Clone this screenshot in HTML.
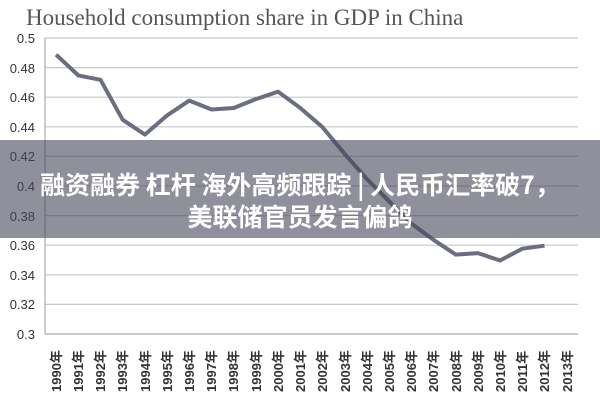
<!DOCTYPE html>
<html><head><meta charset="utf-8"><style>
body{margin:0;width:600px;height:400px;overflow:hidden;background:#fff;position:relative;font-family:"Liberation Sans","Noto Sans CJK SC",sans-serif}
#band{position:absolute;left:0;top:140px;width:600px;height:98px;background:rgba(70,70,90,0.6)}
.t{position:absolute;left:0;width:600px;text-align:center;color:#fff;font-weight:bold;font-size:25px;line-height:30px;font-family:"Noto Sans CJK SC",sans-serif}
</style></head><body>
<svg width="600" height="400" style="position:absolute;left:0;top:0">
<text x="26" y="25" font-family="Liberation Serif" font-size="23" fill="#555">Household consumption share in GDP in China</text>
<g stroke="#c8c8c8" stroke-width="1.2">
<line x1="45" x2="578" y1="38" y2="38"/><line x1="45" x2="578" y1="67.6" y2="67.6"/><line x1="45" x2="578" y1="97.2" y2="97.2"/><line x1="45" x2="578" y1="126.8" y2="126.8"/><line x1="45" x2="578" y1="156.4" y2="156.4"/><line x1="45" x2="578" y1="186" y2="186"/><line x1="45" x2="578" y1="215.6" y2="215.6"/><line x1="45" x2="578" y1="245.2" y2="245.2"/><line x1="45" x2="578" y1="274.8" y2="274.8"/><line x1="45" x2="578" y1="304.4" y2="304.4"/>
</g>
<line x1="45" x2="578" y1="334" y2="334" stroke="#aaa" stroke-width="1.2"/>
<line x1="45" x2="45" y1="38" y2="334" stroke="#aaa" stroke-width="1.2"/>
<g font-size="13" fill="#333" text-anchor="end">
<text x="35" y="43">0.5</text><text x="35" y="73">0.48</text><text x="35" y="102">0.46</text><text x="35" y="132">0.44</text><text x="35" y="161">0.42</text><text x="35" y="191">0.4</text><text x="35" y="221">0.38</text><text x="35" y="250">0.36</text><text x="35" y="280">0.34</text><text x="35" y="309">0.32</text><text x="35" y="339">0.3</text>
</g>
<polyline fill="none" stroke="#6b6e80" stroke-width="4" stroke-linejoin="round" points="56.1,54.7 78.3,75.4 100.5,79.8 122.7,119.8 144.9,134.6 167.1,115.4 189.3,100.6 211.5,109.5 233.7,108 255.9,99.1 278.1,91.7 300.3,108 322.5,127.2 344.7,153.9 366.9,179.1 389.1,201.3 411.3,223.5 433.5,239.8 455.7,254.6 477.9,253.1 500.1,260.5 522.3,248.7 544.5,245.7"/>
<g font-size="13" font-weight="bold" fill="#333">
<text transform="translate(61,392) rotate(-90)">1990年</text><text transform="translate(83,392) rotate(-90)">1991年</text><text transform="translate(105,392) rotate(-90)">1992年</text><text transform="translate(127,392) rotate(-90)">1993年</text><text transform="translate(150,392) rotate(-90)">1994年</text><text transform="translate(172,392) rotate(-90)">1995年</text><text transform="translate(194,392) rotate(-90)">1996年</text><text transform="translate(216,392) rotate(-90)">1997年</text><text transform="translate(238,392) rotate(-90)">1998年</text><text transform="translate(261,392) rotate(-90)">1999年</text><text transform="translate(283,392) rotate(-90)">2000年</text><text transform="translate(305,392) rotate(-90)">2001年</text><text transform="translate(327,392) rotate(-90)">2002年</text><text transform="translate(350,392) rotate(-90)">2003年</text><text transform="translate(372,392) rotate(-90)">2004年</text><text transform="translate(394,392) rotate(-90)">2005年</text><text transform="translate(416,392) rotate(-90)">2006年</text><text transform="translate(438,392) rotate(-90)">2007年</text><text transform="translate(461,392) rotate(-90)">2008年</text><text transform="translate(483,392) rotate(-90)">2009年</text><text transform="translate(505,392) rotate(-90)">2010年</text><text transform="translate(527,392) rotate(-90)">2011年</text><text transform="translate(549,392) rotate(-90)">2012年</text><text transform="translate(572,392) rotate(-90)">2013年</text>
</g>
</svg>
<div id="band"></div>
<div class="t" style="top:169px">融资融券 杠杆 海外高频跟踪 | 人民币汇率破7，</div>
<div class="t" style="top:201px">美联储官员发言偏鸽</div>
</body></html>
